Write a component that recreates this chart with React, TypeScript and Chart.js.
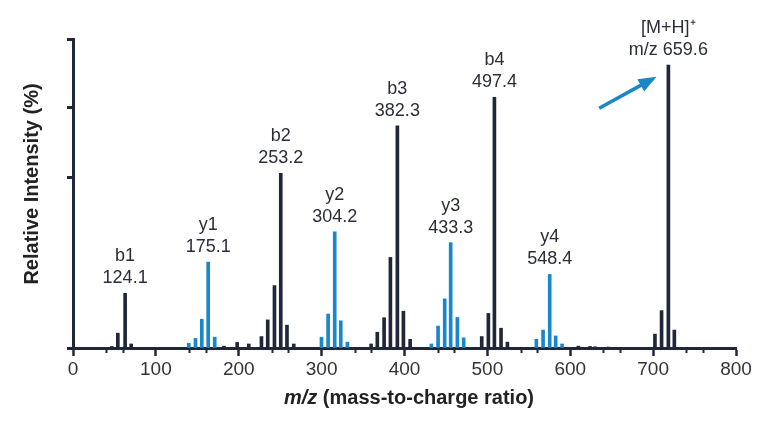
import { useEffect, useRef } from 'react';
import { Chart, registerables } from 'chart.js';
Chart.register(...registerables);

// b-series / precursor peaks (dark)
const darkMz = [48.6, 55.9, 64.7, 72, 184, 199.9, 213.9, 229.2, 236.8, 244.9, 252.5, 260, 268.2, 361.5, 369, 377.2, 384.8, 393.2, 400.5, 408.6, 495, 503, 510.3, 518.3, 526, 611.6, 625.7, 631.7, 647.8, 704, 712, 720.2, 727.4];
const darkIntensity = [0.5, 4.8, 17.7, 1.3, 0.6, 1.8, 1.3, 3.7, 9.1, 20.2, 56.5, 7.4, 1.3, 1.3, 5.1, 9.8, 29.3, 71.9, 11.9, 2.8, 3.7, 11.2, 81.1, 6.4, 1.9, 0.6, 0.5, 0.4, 0.3, 4.5, 12.1, 91.6, 5.8];
// y-series peaks (blue)
const blueMz = [137.9, 146, 153.6, 161.3, 169.2, 298, 306, 314, 321.3, 329.3, 430.6, 438.7, 446.7, 453.9, 462, 469.6, 557.3, 565.4, 573.4, 580.6, 588.3];
const blueIntensity = [1.5, 3.1, 9.3, 27.8, 3.5, 3.5, 11, 37.6, 8.8, 1.9, 1.3, 7.1, 15.9, 34.1, 9.9, 3.3, 2.8, 5.8, 23.8, 3.9, 1.3];

const xMajorTicks = [0, 100, 200, 300, 400, 500, 600, 700, 800];
const xMinorTicks = [40, 60, 140, 160, 240, 260, 340, 360, 440, 460, 540, 560, 640, 660, 740, 760];
const yTickValues = [0, 55.3, 77.7, 100];

const labelNames = ['b1', 'y1', 'b2', 'y2', 'b3', 'y3', 'b4', 'y4', '[M+H]\u207A'];
const labelValues = ['124.1', '175.1', '253.2', '304.2', '382.3', '433.3', '497.4', '548.4', 'm/z 659.6'];
const labelSeries = [0, 1, 0, 1, 0, 1, 0, 1, 0];
const labelPeakIndex = [2, 3, 10, 7, 17, 13, 22, 18, 31];

const arrowFrom = [634.9, 77.6];
const arrowTo = [704.1, 87.8];

const DARK = '#1f2739';
const BLUE = '#1a87c9';
const TEXT = '#2b2d38';
const FONT = '"Liberation Sans", Arial, Helvetica, sans-serif';

const annotationPlugin = {
  id: 'msAnnotations',
  afterDraw(chart: any) {
    const ctx = chart.ctx;
    const xs = chart.scales.x;
    const ys = chart.scales.y;
    ctx.save();
    // peak labels
    ctx.fillStyle = TEXT;
    ctx.font = `18px ${FONT}`;
    ctx.textAlign = 'center';
    ctx.textBaseline = 'middle';
    for (let i = 0; i < labelNames.length; i++) {
      const meta = chart.getDatasetMeta(labelSeries[i]);
      const el = meta.data[labelPeakIndex[i]];
      if (!el) continue;
      const x = el.x;
      const top = el.y;
      ctx.fillText(labelValues[i], x, top - 15);
      ctx.fillText(labelNames[i], x, top - 37);
    }
    // minor x ticks
    ctx.strokeStyle = DARK;
    ctx.lineWidth = 2;
    const base = chart.chartArea.bottom;
    for (const v of xMinorTicks) {
      const px = Math.round(xs.getPixelForValue(v)) + 0.5;
      ctx.beginPath();
      ctx.moveTo(px, base);
      ctx.lineTo(px, base + 5);
      ctx.stroke();
    }
    // arrow
    const x1 = xs.getPixelForValue(arrowFrom[0]);
    const y1 = ys.getPixelForValue(arrowFrom[1]);
    const x2 = xs.getPixelForValue(arrowTo[0]);
    const y2 = ys.getPixelForValue(arrowTo[1]);
    const ang = Math.atan2(y2 - y1, x2 - x1);
    const headLen = 18;
    const headW = 7;
    const bx = x2 - headLen * Math.cos(ang);
    const by = y2 - headLen * Math.sin(ang);
    ctx.strokeStyle = BLUE;
    ctx.fillStyle = BLUE;
    ctx.lineWidth = 3.5;
    ctx.beginPath();
    ctx.moveTo(x1, y1);
    ctx.lineTo(bx + 2 * Math.cos(ang), by + 2 * Math.sin(ang));
    ctx.stroke();
    ctx.beginPath();
    ctx.moveTo(x2, y2);
    ctx.lineTo(bx + headW * Math.sin(ang), by - headW * Math.cos(ang));
    ctx.lineTo(bx - headW * Math.sin(ang), by + headW * Math.cos(ang));
    ctx.closePath();
    ctx.fill();
    // axis titles
    ctx.fillStyle = '#222';
    ctx.textBaseline = 'middle';
    const part1 = 'm/z';
    const part2 = ' (mass-to-charge ratio)';
    ctx.font = `italic bold 20px ${FONT}`;
    const w1 = ctx.measureText(part1).width;
    ctx.font = `bold 20px ${FONT}`;
    const w2 = ctx.measureText(part2).width;
    const cx = 409;
    const ty = 398;
    ctx.textAlign = 'left';
    ctx.font = `italic bold 20px ${FONT}`;
    ctx.fillText(part1, cx - (w1 + w2) / 2, ty);
    ctx.font = `bold 20px ${FONT}`;
    ctx.fillText(part2, cx - (w1 + w2) / 2 + w1, ty);
    ctx.translate(32, 184);
    ctx.rotate(-Math.PI / 2);
    ctx.textAlign = 'center';
    ctx.fillText('Relative Intensity (%)', 0, 0);
    ctx.restore();
  },
};

export default function App() {
  const ref = useRef<HTMLCanvasElement>(null);
  useEffect(() => {
    if (!ref.current) return;
    const chart = new Chart(ref.current, {
      type: 'bar',
      data: {
        datasets: [
          {
            data: darkMz.map((m, i) => ({ x: m, y: darkIntensity[i] })),
            backgroundColor: DARK,
            barThickness: 3,
          },
          {
            data: blueMz.map((m, i) => ({ x: m, y: blueIntensity[i] })),
            backgroundColor: BLUE,
            barThickness: 3,
          },
        ],
      },
      options: {
        responsive: false,
        devicePixelRatio: 1,
        animation: false,
        layout: { padding: { left: 0, right: 32, top: 39, bottom: 0 } },
        plugins: { legend: { display: false }, tooltip: { enabled: false } },
        scales: {
          x: {
            type: 'linear',
            min: 0,
            max: 800,
            offset: false,
            grid: { offset: false, drawOnChartArea: false, tickLength: 8, tickWidth: 2.5, tickColor: DARK },
            border: { display: true, width: 3, color: DARK },
            afterBuildTicks: (s: any) => { s.ticks = xMajorTicks.map((v) => ({ value: v })); },
            afterFit: (s: any) => { s.height = 429 - 348; },
            ticks: {
              autoSkip: false,
              maxRotation: 0,
              padding: 2,
              color: '#333',
              font: { family: FONT, size: 19 },
              callback: (v: any) => String(v),
            },
          },
          y: {
            type: 'linear',
            min: 0,
            max: 100,
            grid: { drawOnChartArea: false, tickLength: 6, tickWidth: 3, tickColor: DARK },
            border: { display: true, width: 3, color: DARK },
            afterBuildTicks: (s: any) => { s.ticks = yTickValues.map((v) => ({ value: v })); },
            afterFit: (s: any) => { s.width = 73; },
            ticks: { callback: () => '' },
          },
        },
      },
      plugins: [annotationPlugin],
    } as any);
    return () => chart.destroy();
  }, []);
  return (
    <div style={{ position: 'fixed', left: 0, top: 0, width: 768, height: 429, background: '#fff' }}>
      <canvas ref={ref} width={768} height={429} style={{ width: 768, height: 429, display: 'block' }} />
    </div>
  );
}
